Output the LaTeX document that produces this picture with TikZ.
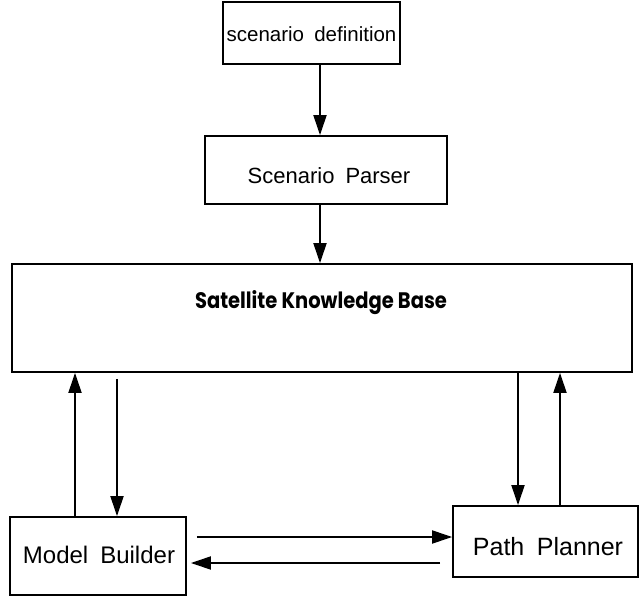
\documentclass[tikz,border=0pt]{standalone}
\usepackage{fontspec}
\setmainfont{Liberation Sans}
\newfontfamily\kbfont{Poppins}
\usetikzlibrary{arrows.meta,calc}
\begin{document}
\begin{tikzpicture}[x=1pt,y=-1pt,
  box/.style={draw,line width=1.8pt,inner sep=0pt},
  lbl/.style={inner sep=0pt},
  arr/.style={line width=1.9pt,-{Triangle[length=20pt,width=13pt]}}]
\useasboundingbox (0,0) rectangle (642,601);
\node[box,minimum width=177pt,minimum height=62pt] (sd) at (311.5,33) {};
\node[lbl,font=\fontsize{20.5}{24}\selectfont] (sdt) at (311.5,34) {scenario\enspace definition};
\node[box,minimum width=242pt,minimum height=68pt] (sp) at (326,170) {};
\node[lbl,font=\fontsize{22}{26}\selectfont] (spt) at (329,176) {Scenario\enspace Parser};
\node[box,minimum width=620pt,minimum height=108pt] (kb) at (322,318) {};
\node[lbl,font=\kbfont\bfseries\fontsize{19.5}{22}\selectfont] (kbt) at (321,303) {\scalebox{1}[1.15]{Satellite Knowledge Base}};
\node[box,minimum width=176pt,minimum height=78pt] (mb) at (98,556) {};
\node[lbl,font=\fontsize{24}{28}\selectfont] (mbt) at (99,555) {Model\enspace Builder};
\node[box,minimum width=185pt,minimum height=71pt] (pp) at (545.5,541.5) {};
\node[lbl,font=\fontsize{25}{29}\selectfont] (ppt) at (548,547) {Path\enspace Planner};
\draw[arr] (sd.south -| 320,0) -- (sp.north -| 320,0);
\draw[arr] (sp.south -| 320,0) -- (kb.north -| 320,0);
\coordinate (c1) at (75,0);
\coordinate (c2) at (117,0);
\coordinate (c3) at (518,0);
\coordinate (c4) at (560,0);
\coordinate (r1) at (0,537);
\coordinate (r2) at (0,563);
\draw[arr] (mb.north -| c1) -- (kb.south -| c1);
\draw[arr] ($(kb.south -| c2)+(0,6)$) -- (mb.north -| c2);
\draw[arr] (kb.south -| c3) -- (pp.north -| c3);
\draw[arr] (pp.north -| c4) -- (kb.south -| c4);
\draw[arr] ($(mb.east |- r1)+(10,0)$) -- (pp.west |- r1);
\draw[arr] ($(pp.west |- r2)+(-12,0)$) -- ($(mb.east |- r2)+(4,0)$);
\end{tikzpicture}
\end{document}
